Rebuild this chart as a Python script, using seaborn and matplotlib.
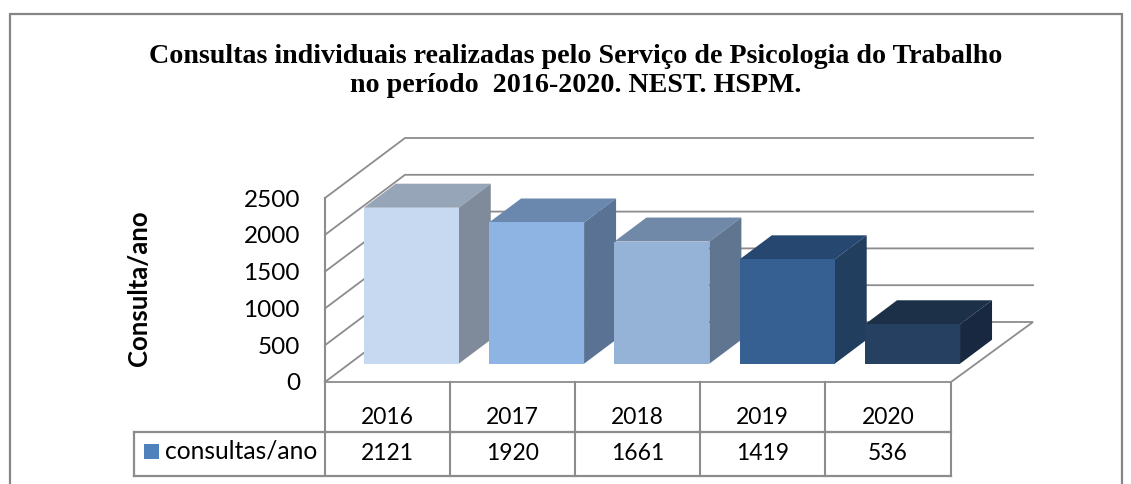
import matplotlib
matplotlib.use("Agg")
import matplotlib.pyplot as plt
from matplotlib.patches import Polygon, Rectangle
import seaborn as sns
import pandas as pd

years = ["2016", "2017", "2018", "2019", "2020"]
consultas = [2121, 1920, 1661, 1419, 536]
y_ticks = [0, 500, 1000, 1500, 2000, 2500]
series_name = "consultas/ano"
y_title = "Consulta/ano"
title = ("Consultas individuais realizadas pelo Serviço de Psicologia do Trabalho\n"
         "no período  2016-2020. NEST. HSPM.")
front = ["#C6D9F1", "#8EB4E3", "#95B3D7", "#376092", "#254061"]
top_c = ["#96A5B8", "#6A87AD", "#7189A9", "#264870", "#1C3048"]
side_c = ["#7F8B9A", "#5A7395", "#5F7590", "#213E5E", "#172840"]

W, H = 1131, 484
GRID = "#8C8C8C"
sans = ["Lato", "DejaVu Sans"]
sns.set_theme(style="white")
plt.rcParams["font.family"] = sans

fig = plt.figure(figsize=(W / 100, H / 100), dpi=100, facecolor="white")

def px_axes(l, t, r, b, z):
    a = fig.add_axes([l / W, 1 - b / H, (r - l) / W, (b - t) / H], zorder=z)
    a.patch.set_alpha(0)
    return a

# pixel canvas for frame, walls and data table
bg = px_axes(0, 0, W, H, 0)
bg.set_xlim(0, W); bg.set_ylim(H, 0); bg.axis("off")

def seg(xs, ys, lw=1.5, c=GRID):
    bg.plot(xs, ys, color=c, lw=lw, solid_capstyle="projecting", solid_joinstyle="miter")

seg([10, 10, 1122, 1122], [484, 14, 14, 484], lw=1.6, c="#868686")

wall_x, back_x, right_x, floor_r = 325, 405, 1033, 951
wall_top, wall_bot, dy = 198, 382, 60

# value axis: the left wall
yax = px_axes(wall_x, wall_top, wall_x + 1, wall_bot, 0)
yax.set_ylim(y_ticks[0], y_ticks[-1]); yax.set_xticks([])
yax.set_yticks(y_ticks); yax.set_yticklabels([str(v) for v in y_ticks], fontsize=17.5, color="black")
yax.tick_params(axis="y", length=0, pad=18)
for s in yax.spines.values():
    s.set_visible(False)
yax.spines["left"].set_visible(True)
yax.spines["left"].set_color(GRID); yax.spines["left"].set_linewidth(1.5)
yax.set_ylabel("")
fig.text(139 / W, 1 - 288 / H, y_title, rotation=90, ha="center", va="center",
         fontsize=18.5, fontweight="bold", color="black")

for v in y_ticks:
    y = yax.transData.transform((0, v))[1]
    y = H - y
    if v == y_ticks[0]:
        seg([wall_x, back_x], [y, y - dy], lw=1.3)
        seg([back_x, right_x, floor_r, wall_x], [y - dy, y - dy, y, y], lw=1.3)
    else:
        seg([wall_x, back_x, right_x], [y, y - dy, y - dy], lw=1.3)

# bars
bar_ax = px_axes(348.6, 363.7 - 2500 * 0.07355, 975.2, 363.7, 2)
df = pd.DataFrame({"ano": years, "consultas": consultas})
sns.barplot(data=df, x="ano", y="consultas", hue="ano", palette=front, legend=False,
            width=0.758, saturation=1, ax=bar_ax, dodge=False, linewidth=0, edgecolor="none")
bar_ax.set_ylim(0, y_ticks[-1]); bar_ax.set_xlim(-0.5, len(years) - 0.5)
bar_ax.axis("off")

DX, DY = 32, -24
for i, p in enumerate(bar_ax.patches):
    (x0, y0), (x1, y1) = bar_ax.transData.transform(
        [(p.get_x(), 0), (p.get_x() + p.get_width(), p.get_height())])
    x0, x1 = bg.transData.inverted().transform([(x0, y0), (x1, y1)])[:, 0]
    yb, yt = bg.transData.inverted().transform([(0, y0), (0, y1)])[:, 1]
    z = 3 + i * 0.1
    p.set_zorder(z + 0.05)
    p.set_edgecolor("none")
    p.set_linewidth(0)
    bar_ax.add_patch(Polygon([(x0, yt), (x1, yt), (x1 + DX, yt + DY), (x0 + DX, yt + DY)],
                             closed=True, fc=top_c[i], ec="none", transform=bg.transData,
                             zorder=z, clip_on=False))
    bar_ax.add_patch(Polygon([(x1, yb), (x1, yt), (x1 + DX, yt + DY), (x1 + DX, yb + DY)],
                             closed=True, fc=side_c[i], ec="none", transform=bg.transData,
                             zorder=z, clip_on=False))

# data table
col_edges = [325, 450, 575, 700, 825, 951]
t_top, t_mid, t_bot, t_left = 382, 431.5, 476, 134
for x in col_edges:
    seg([x, x], [t_top, t_bot], lw=1.5)
seg([t_left, col_edges[-1]], [t_mid, t_mid], lw=1.6)
seg([t_left, col_edges[-1]], [t_bot, t_bot], lw=1.6)
seg([t_left, t_left], [t_mid, t_bot], lw=1.6)
for i, (yr, val) in enumerate(zip(years, consultas)):
    cx = (col_edges[i] + col_edges[i + 1]) / 2
    bg.text(cx, 417, yr, ha="center", va="center", fontsize=16.5, color="black")
    bg.text(cx, 454, str(val), ha="center", va="center", fontsize=16.5, color="black")
bg.add_patch(Rectangle((144, 444), 15, 15, fc="#4F81BD", ec="none"))
bg.text(165, 451, series_name, ha="left", va="center", fontsize=17.7, color="black")

bg.text(576, 71, title, ha="center", va="center", fontsize=20.2, fontweight="bold",
        family="Liberation Serif", color="black", linespacing=1.22)

fig.savefig("out.png", dpi=100, facecolor="white")
